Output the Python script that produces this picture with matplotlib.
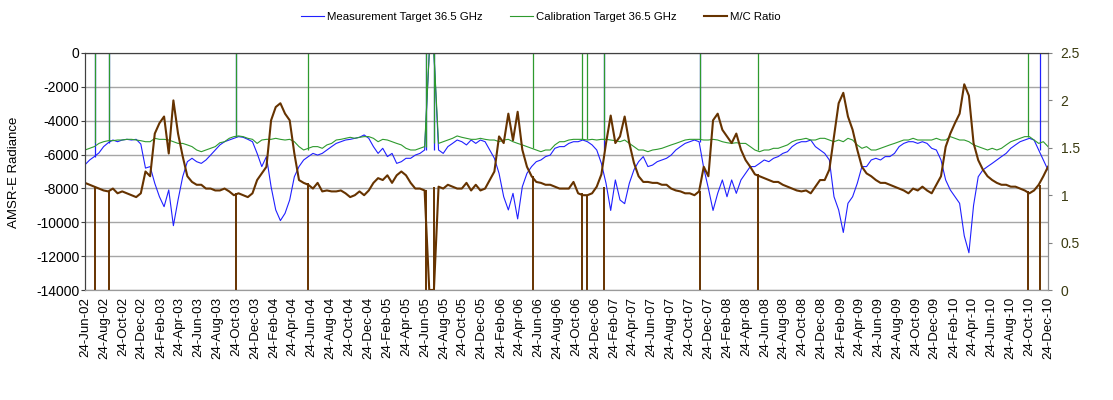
import numpy as np
import pandas as pd
import matplotlib
matplotlib.use("Agg")
import matplotlib.pyplot as plt

plt.rcParams['font.family'] = ['Liberation Sans', 'DejaVu Sans']

# 15-day samples from 24-Jun-2002 to 24-Dec-2010
start_date = np.datetime64('2002-06-24')
step_days = 15

measurement = [
    # 2002
    -6600, -6320, -6120, -5900, -5530, -5300, -5140, -5240, -5140, -5100, -5140, -5100, -5380,
    # 2003
    -6800, -6710, -7700, -8490, -9080, -8090, -10200, -8680, -7310, -6420, -6220, -6420,
    -6520, -6320, -6030, -5730, -5430, -5240, -5140, -5040, -4940, -4980, -5100, -5240,
    # 2004
    -5930, -6710, -6120, -7900, -9270, -9900, -9470, -8680, -7310, -6710, -6320, -6120,
    -5930, -6030, -5930, -5730, -5530, -5340, -5240, -5140, -5100, -5040, -4980, -4840, -5040,
    # 2005
    -5530, -5930, -5630, -6120, -5930, -6520, -6420, -6220, -6220, -6030, -5930, -5730,
    0, 0, -5730, -5930, -5530, -5340, -5140, -5240, -5430, -5140, -5340, -5140,
    # 2006
    -5240, -5730, -6220, -7110, -8490, -9270, -8290, -9800, -7900, -7110, -6710, -6420,
    -6320, -6120, -6030, -5630, -5530, -5530, -5340, -5240, -5240, -5140, -5240, -5430,
    # 2007
    -5730, -6520, -7700, -9300, -7500, -8680, -8900, -7700, -6900, -6420, -6120, -6710,
    -6620, -6420, -6320, -6220, -6030, -5730, -5530, -5340, -5240, -5140, -5240, -6800, -8000,
    # 2008
    -9300, -8290, -7500, -8490, -7500, -8290, -7500, -7110, -6710, -6710, -6520, -6320,
    -6420, -6220, -6120, -5930, -5830, -5530, -5340, -5240, -5240, -5140, -5530, -5730,
    # 2009
    -5930, -6320, -8490, -9270, -10600, -8880, -8490, -7700, -6710, -6710, -6320, -6220,
    -6320, -6120, -6120, -5930, -5530, -5340, -5240, -5240, -5340, -5240, -5340, -5630, -5730,
    # 2010
    -6320, -7500, -8090, -8490, -8880, -10800, -11800, -9000, -7310, -6910, -6710, -6520,
    -6320, -6120, -5930, -5630, -5430, -5240, -5140, -5040, -5140, -5730, -6320, -6910,
]

calibration = [
    # 2002
    -5730, -5630, -5530, -5340, -5240, -5180, -5180, -5140, -5140, -5100, -5100, -5140, -5180,
    # 2003
    -5240, -5240, -5040, -5100, -5100, -5140, -5240, -5340, -5340, -5430, -5530, -5730,
    -5830, -5730, -5630, -5530, -5300, -5240, -5040, -4940, -4900, -4940, -5040, -5100,
    # 2004
    -5340, -5140, -5100, -5100, -5040, -5100, -5140, -5100, -5240, -5530, -5730, -5630,
    -5530, -5530, -5630, -5430, -5340, -5140, -5100, -5040, -4980, -5040, -4980, -4940, -4940,
    # 2005
    -5040, -5240, -5100, -5140, -5240, -5340, -5430, -5630, -5730, -5730, -5630, -5530,
    0, 0, -5340, -5240, -5140, -5040, -4900, -4980, -5040, -5100, -5100, -5040,
    # 2006
    -5100, -5140, -5140, -5240, -5140, -5100, -5240, -5340, -5430, -5530, -5630, -5730,
    -5830, -5730, -5730, -5430, -5240, -5240, -5140, -5100, -5100, -5100, -5140, -5100,
    # 2007
    -5140, -5100, -5100, -5140, -5180, -5240, -5140, -5340, -5530, -5730, -5730, -5830,
    -5730, -5690, -5630, -5530, -5430, -5340, -5240, -5140, -5100, -5100, -5100, -5140, -5140,
    # 2008
    -5100, -5140, -5240, -5300, -5340, -5300, -5340, -5340, -5530, -5730, -5830, -5730,
    -5730, -5630, -5630, -5530, -5430, -5240, -5140, -5100, -5040, -5140, -5140, -5040,
    # 2009
    -5040, -5140, -5240, -5140, -5240, -5040, -5140, -5430, -5630, -5530, -5730, -5730,
    -5630, -5530, -5430, -5340, -5240, -5140, -5140, -5040, -5140, -5140, -5140, -5140, -5040,
    # 2010
    -5140, -5140, -4940, -5040, -5140, -5140, -5240, -5430, -5530, -5630, -5730, -5630,
    -5730, -5630, -5430, -5240, -5140, -5040, -4940, -4940, -5140, -5340, -5240, -5530,
]

mc_ratio = [
    # 2002
    1.13, 1.11, 1.09, 1.07, 1.05, 1.04, 1.07, 1.02, 1.04, 1.02, 1.00, 0.98, 1.02,
    # 2003
    1.25, 1.20, 1.65, 1.76, 1.83, 1.44, 2.00, 1.65, 1.41, 1.20, 1.14, 1.11,
    1.11, 1.07, 1.07, 1.05, 1.05, 1.07, 1.04, 1.00, 1.02, 1.00, 0.98, 1.02,
    # 2004
    1.16, 1.23, 1.30, 1.79, 1.93, 1.97, 1.86, 1.79, 1.44, 1.16, 1.13, 1.11,
    1.07, 1.13, 1.04, 1.05, 1.04, 1.04, 1.05, 1.02, 0.98, 1.00, 1.04, 1.00, 1.05,
    # 2005
    1.13, 1.18, 1.16, 1.21, 1.13, 1.21, 1.25, 1.21, 1.13, 1.07, 1.07, 1.05,
    0.00, 0.00, 1.09, 1.07, 1.11, 1.09, 1.07, 1.07, 1.13, 1.05, 1.11, 1.05,
    # 2006
    1.07, 1.16, 1.25, 1.62, 1.55, 1.86, 1.58, 1.88, 1.48, 1.30, 1.20, 1.14,
    1.13, 1.11, 1.11, 1.09, 1.07, 1.07, 1.07, 1.14, 1.02, 1.00, 1.00, 1.02,
    # 2007
    1.09, 1.22, 1.55, 1.84, 1.55, 1.62, 1.83, 1.55, 1.34, 1.20, 1.14, 1.14,
    1.13, 1.13, 1.11, 1.11, 1.07, 1.05, 1.04, 1.02, 1.02, 1.00, 1.04, 1.30, 1.20,
    # 2008
    1.79, 1.86, 1.69, 1.62, 1.55, 1.65, 1.48, 1.37, 1.30, 1.22, 1.20, 1.18,
    1.16, 1.14, 1.14, 1.11, 1.09, 1.07, 1.05, 1.04, 1.05, 1.02, 1.09, 1.16,
    # 2009
    1.16, 1.27, 1.62, 1.97, 2.08, 1.83, 1.69, 1.48, 1.30, 1.23, 1.20, 1.16,
    1.13, 1.13, 1.11, 1.09, 1.07, 1.05, 1.02, 1.07, 1.05, 1.09, 1.05, 1.02, 1.11,
    # 2010
    1.20, 1.51, 1.65, 1.76, 1.86, 2.17, 2.05, 1.55, 1.37, 1.27, 1.20, 1.16,
    1.13, 1.11, 1.11, 1.09, 1.09, 1.07, 1.05, 1.02, 1.05, 1.11, 1.20, 1.30,
]

# single-day dropouts (value jumps to 0) and the level they jump from
cal_spike_dates = ['2002-07-27', '2002-09-10', '2003-10-25', '2004-06-11', '2005-06-28',
                   '2005-07-24', '2006-06-09', '2006-11-11', '2006-11-27', '2007-01-21',
                   '2007-11-29', '2008-06-02', '2010-10-19']
cal_spike_base = [-5340, -5180, -4940, -5730, -5530, -5340, -5630, -5100, -5100, -5140,
                  -5100, -5730, -4940]
meas_spike_dates = ['2002-07-27', '2002-09-10', '2003-10-25', '2005-06-28', '2005-07-24',
                    '2007-01-21', '2007-11-29', '2010-11-28']
meas_spike_base = [-6120, -5300, -4940, -5730, -5730, -5730, -5240, -5730]
ratio_drop_dates = ['2002-07-27', '2002-09-10', '2003-10-25', '2004-06-11', '2005-06-28',
                    '2005-07-24', '2006-06-09', '2006-11-11', '2006-11-27', '2007-01-21',
                    '2007-11-29', '2008-06-02', '2010-10-19', '2010-11-28']
ratio_drop_base = [1.09, 1.04, 1.02, 1.13, 1.05, 1.09, 1.20, 1.02, 1.00, 1.09, 1.04, 1.22,
                   1.04, 1.11]

left_ticks = [0, -2000, -4000, -6000, -8000, -10000, -12000, -14000]
right_ticks = [0, 0.5, 1, 1.5, 2, 2.5]

dates = start_date + np.arange(len(measurement)) * np.timedelta64(step_days, 'D')

blue = '#2020ff'
green = '#2e9a2e'
brown = '#663300'

fig = plt.figure(figsize=(11.13, 4.0), dpi=100)
ax = fig.add_axes([85 / 1113, 1 - 290 / 400, (1048 - 85) / 1113, (290 - 53) / 400])
ax2 = ax.twinx()

l1, = ax.plot(dates, measurement, color=blue, lw=0.8, label='Measurement Target 36.5 GHz')
ax.vlines(np.array(meas_spike_dates, dtype='datetime64[D]'), meas_spike_base, 0, color=blue, lw=0.9)
l2, = ax.plot(dates, calibration, color=green, lw=0.8, label='Calibration Target 36.5 GHz')
ax.vlines(np.array(cal_spike_dates, dtype='datetime64[D]'), cal_spike_base, 0, color=green, lw=0.9)
l3, = ax2.plot(dates, mc_ratio, color=brown, lw=1.5, label='M/C Ratio')
ax2.vlines(np.array(ratio_drop_dates, dtype='datetime64[D]'), ratio_drop_base, 0, color=brown, lw=1.4)

ax.set_ylim(-14000, 0)
ax2.set_ylim(0, 2.5)
ax.set_xlim(np.datetime64('2002-06-24'), np.datetime64('2010-12-24'))

ax.set_yticks(left_ticks)
ax.set_yticklabels([str(t) for t in left_ticks])
ax2.set_yticks(right_ticks)
ax2.set_yticklabels(['0', '0.5', '1', '1.5', '2', '2.5'])

xt = pd.date_range('2002-06-24', '2010-12-24', freq=pd.DateOffset(months=2))
ax.set_xticks(xt)
ax.set_xticklabels([d.strftime('%d-%b-%y') for d in xt], rotation=90, fontsize=9.5)

ax.yaxis.grid(True, color='#a6a6a6', lw=1)
ax.set_axisbelow(True)

ax.tick_params(axis='y', labelsize=10, length=3, pad=1, color='#404040')
ax.tick_params(axis='x', length=0, pad=5)
ax2.tick_params(axis='y', labelsize=10, length=3, pad=6, color='#808080', labelcolor='#3a3a10')

for a in (ax, ax2):
    a.spines['left'].set_color('#404040')
    a.spines['top'].set_color('#404040')
    a.spines['right'].set_color('#8c8c8c')
    a.spines['bottom'].set_color('#9a9a9a')

fig.text(14 / 1113, 1 - 172 / 400, 'AMSR-E Radiance', rotation=90, fontsize=9.5,
         ha='center', va='center')

fig.legend(handles=[l1, l2, l3], loc='center', bbox_to_anchor=(541 / 1113, 1 - 17 / 400),
           ncol=3, frameon=False, fontsize=8.2, handlelength=2.0, handletextpad=0.3,
           columnspacing=2.4)

fig.savefig('out.png', dpi=100)
